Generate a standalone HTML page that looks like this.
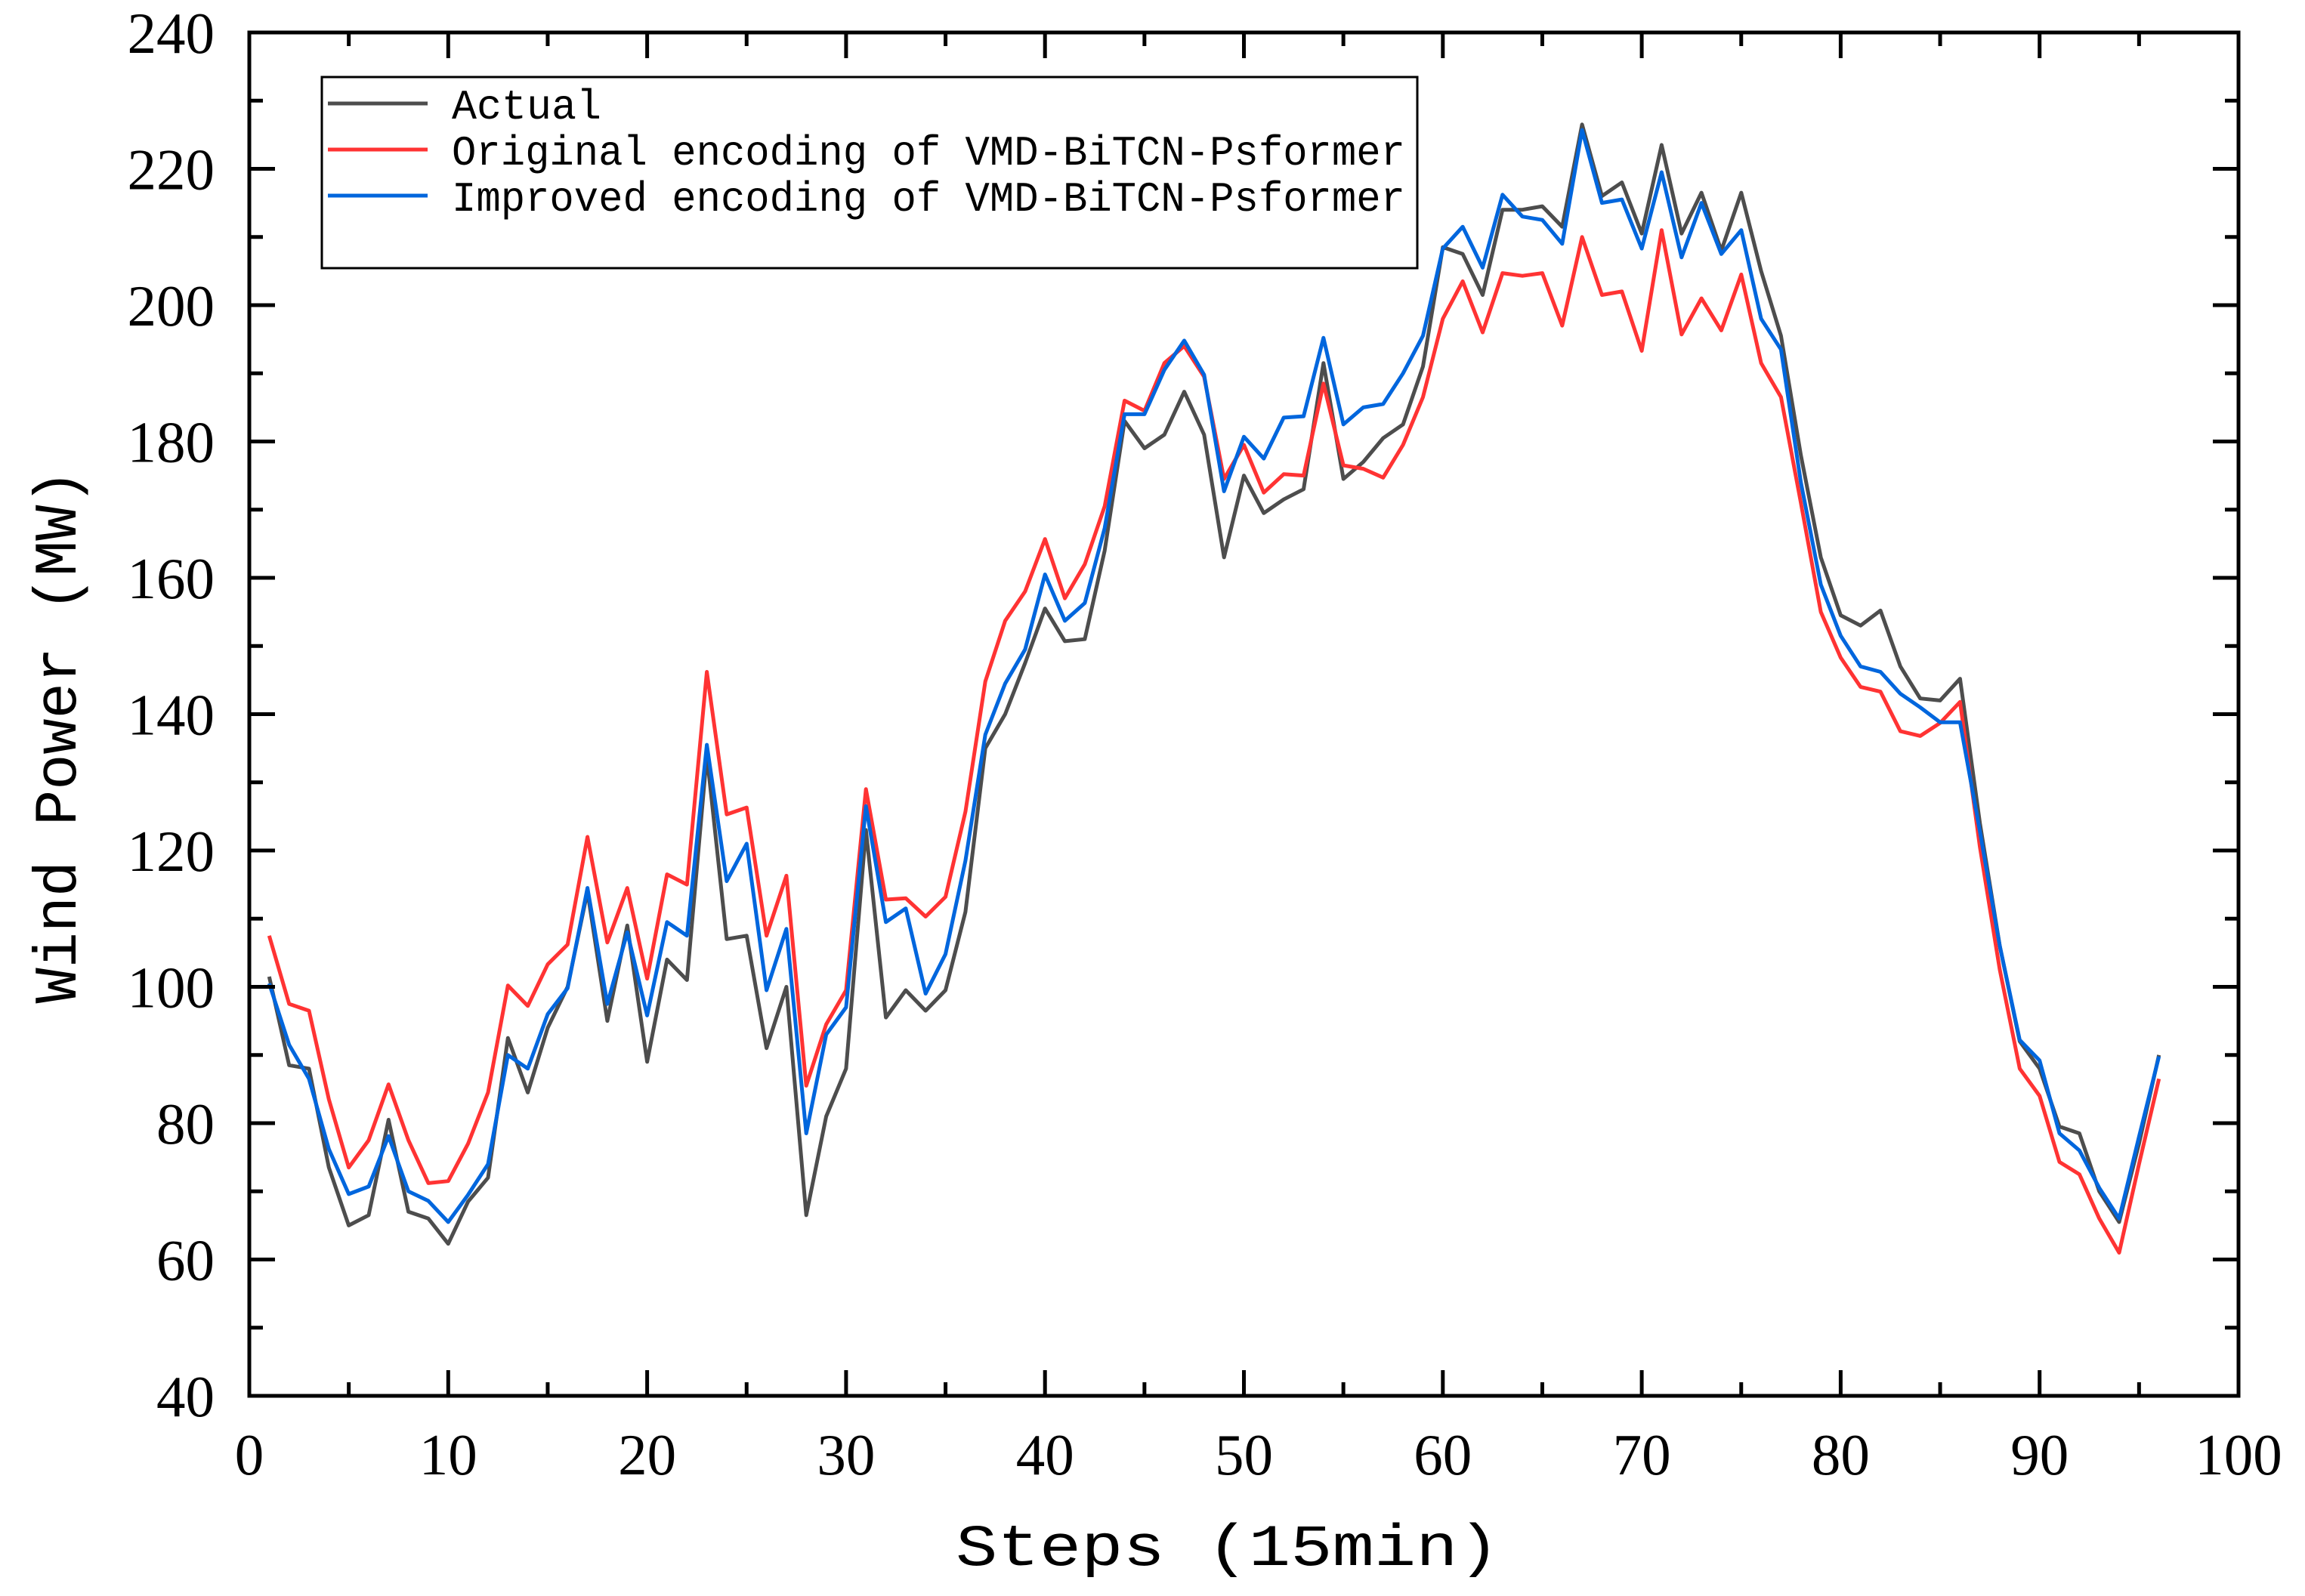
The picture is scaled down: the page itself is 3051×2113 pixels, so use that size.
<!DOCTYPE html>
<html><head><meta charset="utf-8"><style>
html,body{margin:0;padding:0;background:#fff;}
svg{display:block;}
</style></head><body>
<svg id="chart" width="3051" height="2113" viewBox="0 0 3051 2113" xmlns="http://www.w3.org/2000/svg">
<rect width="3051" height="2113" fill="#fff"/>
<g id="series"></g>
<g id="axes"></g>
<g id="legend">
  <rect x="426" y="102" width="1450" height="253" fill="#fff" stroke="#000" stroke-width="3"/>
  <line x1="434" y1="137" x2="566" y2="137" stroke="#4d4d4d" stroke-width="5"/>
  <text x="598" y="157" font-family="Liberation Mono, monospace" font-size="56" textLength="198" lengthAdjust="spacingAndGlyphs">Actual</text>
  <line x1="434" y1="198" x2="566" y2="198" stroke="#ff3333" stroke-width="5"/>
  <text x="598" y="218" font-family="Liberation Mono, monospace" font-size="56" textLength="1262" lengthAdjust="spacingAndGlyphs">Original encoding of VMD-BiTCN-Psformer</text>
  <line x1="434" y1="259" x2="566" y2="259" stroke="#0066dd" stroke-width="5"/>
  <text x="598" y="279" font-family="Liberation Mono, monospace" font-size="56" textLength="1262" lengthAdjust="spacingAndGlyphs">Improved encoding of VMD-BiTCN-Psformer</text>
</g>
<text x="1625" y="2072" text-anchor="middle" font-family="Liberation Mono, monospace" font-size="78" textLength="720" lengthAdjust="spacingAndGlyphs">Steps (15min)</text>
<text transform="translate(100,975) rotate(-90)" text-anchor="middle" font-family="Liberation Mono, monospace" font-size="80" textLength="707" lengthAdjust="spacingAndGlyphs">Wind Power (MW)</text>
</svg>
<script>
const actual=[101.5,88.5,88,73.5,65,66.5,80.5,67,66,62.3,68.5,72,92.5,84.5,94,100,114,95,109,89,104,101,134,107,107.5,91,100,66.5,81,88,123,95.5,99.5,96.5,99.5,111,135,140,147.5,155.5,150.7,151,164,183,179,181,187.3,181,163,175,169.5,171.5,173,191.5,174.5,177,180.5,182.5,191,208.5,207.5,201.5,214,214,214.5,211.5,226.5,216,218,210.5,223.5,210.5,216.5,208,216.5,205,195.5,178,163,154.5,153,155.2,147,142.3,142,145.2,124,106,92,88,79.5,78.5,70,65.5,77,90];
const original=[107.5,97.5,96.5,83.5,73.5,77.5,85.7,77.5,71.2,71.5,77,84.5,100.2,97.2,103.3,106.2,122,106.5,114.5,101.2,116.5,115,146.2,125.3,126.3,107.5,116.3,85.5,94.5,99.5,129,112.8,113,110.3,113.2,125.7,144.8,153.7,158,165.7,157,162,170.5,186,184.5,191.5,194,189.5,174.5,179.5,172.5,175.2,175,188.5,176.5,176,174.7,179.5,186.5,198,203.5,196,204.7,204.3,204.7,197,210,201.5,202,193.3,211,195.7,201,196.3,204.5,191.5,186.5,171,155,148.3,144,143.3,137.5,136.8,138.7,141.8,120.5,102.5,88,84,74.3,72.5,66,61,74,86.5];
const improved=[100.5,91.5,86.5,76.2,69.6,70.7,78.1,70,68.6,65.5,69.5,74,90,88,96,99.8,114.5,97.5,108,95.8,109.5,107.5,135.5,115.5,121,99.5,108.5,78.5,93,97,126.5,109.5,111.5,99,104.8,118.5,137,144.5,149.5,160.5,153.7,156.3,167.3,184,184,190.5,194.8,189.8,172.7,180.7,177.5,183.5,183.7,195.2,182.5,185,185.5,190,195.5,208.3,211.5,205.5,216.2,213,212.5,209,225.7,215,215.5,208.3,219.5,207,215,207.5,211,198,193.5,174,159,151.5,147,146.2,143,141,138.8,138.8,122.8,106,92.2,89.2,78.5,76,70.5,66,78,89.8];
const xTicks=[0,10,20,30,40,50,60,70,80,90,100];
const yTicks=[40,60,80,100,120,140,160,180,200,220,240];

const NS="http://www.w3.org/2000/svg";
const L=330,R=2963,T=43,B=1848;
const xMin=0,xMax=100,yMin=40,yMax=240;
function sx(v){return L+(v-xMin)/(xMax-xMin)*(R-L);}
function sy(v){return B-(v-yMin)/(yMax-yMin)*(B-T);}
function mk(tag,attrs,parent){const e=document.createElementNS(NS,tag);for(const k in attrs)e.setAttribute(k,attrs[k]);parent.appendChild(e);return e;}

const sg=document.getElementById('series');
function drawSeries(arr,color,name,w){
  const pts=arr.map((v,i)=>sx(i+1).toFixed(1)+','+sy(v).toFixed(1)).join(' ');
  const p=mk('polyline',{points:pts,fill:'none',stroke:color,'stroke-width':w,'stroke-linejoin':'round'},sg);
  
  
}
drawSeries(actual,'#4d4d4d','actual-line',5);
drawSeries(original,'#ff3333','original-encoding-line',5);
drawSeries(improved,'#0066dd','improved-encoding-line',5);

const ag=document.getElementById('axes');
const frame=mk('rect',{x:L,y:T,width:R-L,height:B-T,fill:'none',stroke:'#000','stroke-width':5},ag);


const MJ=34,MN=18;
for(let v=xMin;v<=xMax;v+=5){
  const major=v%10===0,len=major?MJ:MN,x=sx(v);
  const t1=mk('line',{x1:x,y1:B,x2:x,y2:B-len,stroke:'#000','stroke-width':5},ag);
  
  
  const t2=mk('line',{x1:x,y1:T,x2:x,y2:T+len,stroke:'#000','stroke-width':5},ag);
  
  
}
for(let v=yMin;v<=yMax;v+=10){
  const major=v%20===0,len=major?MJ:MN,y=sy(v);
  const t1=mk('line',{x1:L,y1:y,x2:L+len,y2:y,stroke:'#000','stroke-width':5},ag);
  
  
  const t2=mk('line',{x1:R,y1:y,x2:R-len,y2:y,stroke:'#000','stroke-width':5},ag);
  
  
}
xTicks.forEach(v=>{
  const t=mk('text',{x:sx(v),y:1952,'text-anchor':'middle','font-family':'Liberation Serif, serif','font-size':77},ag);
  t.textContent=v;
  
  
});
yTicks.forEach(v=>{
  const t=mk('text',{x:284,y:sy(v)+27,'text-anchor':'end','font-family':'Liberation Serif, serif','font-size':77},ag);
  t.textContent=v;
  
  
});
</script>
</body></html>
